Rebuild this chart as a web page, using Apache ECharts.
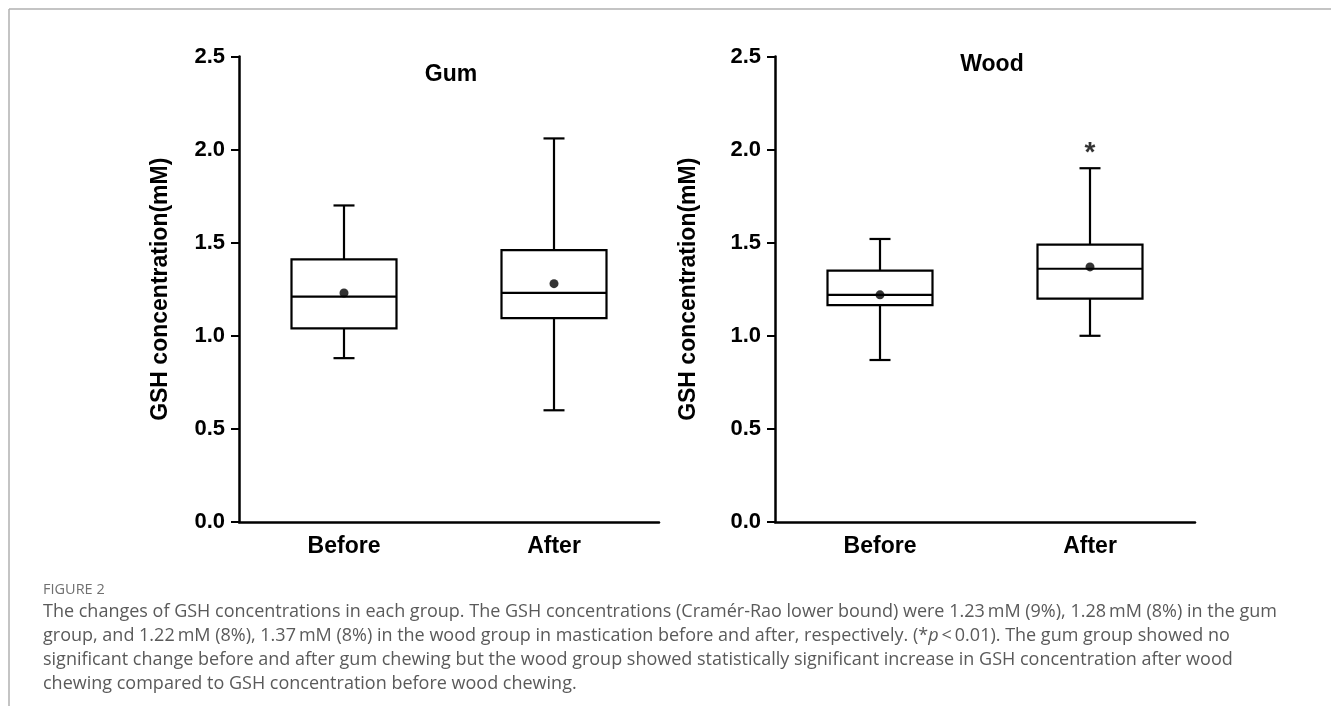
<!DOCTYPE html>
<html>
<head>
<meta charset="utf-8">
<script src="https://cdn.jsdelivr.net/npm/echarts@6/dist/echarts.min.js"></script>
<style>
  html, body { margin: 0; padding: 0; background: #fff; }
  #chart { width: 1331px; height: 717px; }
</style>
</head>
<body>
<div id="chart"></div>
<script>
// categories and values
var categories = ['Before', 'After'];
var yTicks = [0, 0.5, 1.0, 1.5, 2.0, 2.5];
// [min, Q1, median, Q3, max]
var gumBox = [
  [0.88, 1.04, 1.21, 1.41, 1.70],
  [0.60, 1.095, 1.23, 1.46, 2.06]
];
var gumMean = [1.23, 1.28];
var woodBox = [
  [0.87, 1.165, 1.22, 1.35, 1.52],
  [1.00, 1.20, 1.36, 1.49, 1.90]
];
var woodMean = [1.22, 1.37];
var woodStar = [[1, 1.98]]; // * p < 0.01 marker over "After"

var captionLines = [
  'The changes of GSH concentrations in each group. The GSH concentrations (Cram\u00e9r-Rao lower bound) were 1.23\u2009mM (9%), 1.28\u2009mM (8%) in the gum',
  'group, and 1.22\u2009mM (8%), 1.37\u2009mM (8%) in the wood group in mastication before and after, respectively. (*{i|p}\u2009<\u20090.01). The gum group showed no',
  'significant change before and after gum chewing but the wood group showed statistically significant increase in GSH concentration after wood',
  'chewing compared to GSH concentration before wood chewing.'
];

var FONT = '"Liberation Sans", Arial, sans-serif';

// box + whiskers with short caps, drawn through the axis scales
function renderBox(params, api) {
  var c = api.value(0);
  var band = api.size([1, 0])[0];
  var half = band * 0.25;
  var cap = band * 0.05;
  var pMin = api.coord([c, api.value(1)]);
  var pQ1 = api.coord([c, api.value(2)]);
  var pMed = api.coord([c, api.value(3)]);
  var pQ3 = api.coord([c, api.value(4)]);
  var pMax = api.coord([c, api.value(5)]);
  var x = pMed[0];
  var st = { stroke: '#000', lineWidth: 2.2, fill: null };
  return {
    type: 'group',
    children: [
      { type: 'rect', shape: { x: x - half, y: pQ3[1], width: half * 2, height: pQ1[1] - pQ3[1] }, style: st },
      { type: 'line', shape: { x1: x - half, y1: pMed[1], x2: x + half, y2: pMed[1] }, style: st },
      { type: 'line', shape: { x1: x, y1: pQ3[1], x2: x, y2: pMax[1] }, style: st },
      { type: 'line', shape: { x1: x, y1: pQ1[1], x2: x, y2: pMin[1] }, style: st },
      { type: 'line', shape: { x1: x - cap, y1: pMax[1], x2: x + cap, y2: pMax[1] }, style: st },
      { type: 'line', shape: { x1: x - cap, y1: pMin[1], x2: x + cap, y2: pMin[1] }, style: st }
    ]
  };
}

function boxData(arr) {
  return arr.map(function (d, i) { return [i].concat(d); });
}
function meanData(arr) {
  return arr.map(function (v, i) { return [i, v]; });
}

function xAxisFor(idx) {
  return {
    type: 'category', gridIndex: idx, data: categories,
    axisLine: { lineStyle: { color: '#000', width: 2.5 } },
    axisTick: { alignWithLabel: true, length: 8, lineStyle: { color: '#000', width: 2 } },
    axisLabel: { color: '#000', fontFamily: FONT, fontWeight: 'bold', fontSize: 23, margin: 13 }
  };
}
function yAxisFor(idx, gap) {
  return {
    type: 'value', gridIndex: idx, min: 0, max: 2.5, interval: 0.5,
    name: 'GSH concentration(mM)', nameLocation: 'middle', nameGap: gap, nameRotate: 90,
    nameTextStyle: { color: '#000', fontFamily: FONT, fontWeight: 'bold', fontSize: 23 },
    axisLine: { show: true, lineStyle: { color: '#000', width: 2.5 } },
    axisTick: { show: true, length: 8, lineStyle: { color: '#000', width: 2 } },
    splitLine: { show: false },
    axisLabel: {
      color: '#000', fontFamily: FONT, fontWeight: 'bold', fontSize: 22, margin: 14,
      formatter: function (v) { return v.toFixed(1); }
    }
  };
}

var graphics = [
  { type: 'line', shape: { x1: 9, y1: 9, x2: 1331, y2: 9 }, style: { stroke: '#b0b0b0', lineWidth: 1.5 } },
  { type: 'line', shape: { x1: 9, y1: 9, x2: 9, y2: 706 }, style: { stroke: '#b0b0b0', lineWidth: 1.5 } },
  { type: 'text', x: 451, y: 75, style: { text: 'Gum', fill: '#000', font: 'bold 23px ' + FONT, textAlign: 'center', textVerticalAlign: 'middle' } },
  { type: 'text', x: 992, y: 65, style: { text: 'Wood', fill: '#000', font: 'bold 23px ' + FONT, textAlign: 'center', textVerticalAlign: 'middle' } },
  { type: 'text', x: 43, y: 590, style: { text: 'FIGURE 2', fill: '#707070', font: '14.5px "Open Sans", sans-serif', textVerticalAlign: 'middle' } }
];
captionLines.forEach(function (line, i) {
  graphics.push({
    type: 'text', x: 43, y: 612 + i * 24,
    style: {
      text: line, fill: '#5a5a5a', font: '18px "Open Sans", sans-serif', textVerticalAlign: 'middle',
      rich: { i: { fontStyle: 'italic', fontSize: 18, fontFamily: '"Open Sans", sans-serif', fill: '#5a5a5a' } }
    }
  });
});

var chart = echarts.init(document.getElementById('chart'));
chart.setOption({
  animation: false,
  grid: [
    { left: 239, top: 56.5, width: 420, height: 465.5 },
    { left: 775, top: 56.5, width: 420, height: 465.5 }
  ],
  xAxis: [xAxisFor(0), xAxisFor(1)],
  yAxis: [yAxisFor(0, 67), yAxisFor(1, 75)],
  series: [
    { type: 'custom', xAxisIndex: 0, yAxisIndex: 0, renderItem: renderBox, data: boxData(gumBox), encode: { x: 0, y: [1, 2, 3, 4, 5] } },
    { type: 'custom', xAxisIndex: 1, yAxisIndex: 1, renderItem: renderBox, data: boxData(woodBox), encode: { x: 0, y: [1, 2, 3, 4, 5] } },
    { type: 'scatter', xAxisIndex: 0, yAxisIndex: 0, symbolSize: 9, itemStyle: { color: '#000' }, data: meanData(gumMean), z: 5 },
    { type: 'scatter', xAxisIndex: 1, yAxisIndex: 1, symbolSize: 9, itemStyle: { color: '#000' }, data: meanData(woodMean), z: 5 },
    {
      type: 'scatter', xAxisIndex: 1, yAxisIndex: 1, symbolSize: 1, itemStyle: { color: 'rgba(0,0,0,0)' },
      data: woodStar,
      label: { show: true, position: 'inside', formatter: '*', color: '#000', fontFamily: FONT, fontWeight: 'bold', fontSize: 28 }
    }
  ],
  graphic: graphics
});
</script>
</body>
</html>
